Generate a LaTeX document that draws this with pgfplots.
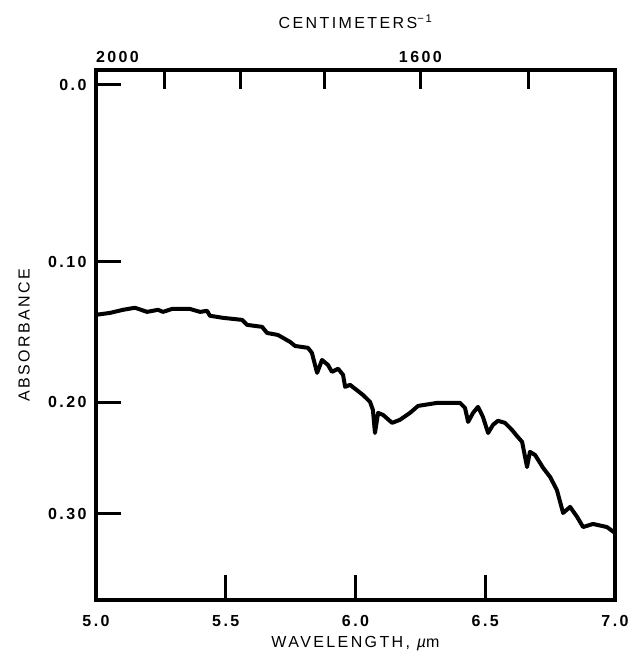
\documentclass[border=0pt]{standalone}
\usepackage{fontspec}
\setmainfont{Liberation Sans}[LetterSpace=15]
\usepackage{pgfplots}
\usepackage{pgfplotstable}
\pgfplotsset{compat=1.18}

% wavelength (um) vs absorbance
\pgfplotstableread{
lambda A
5.000 0.1351
5.054 0.1338
5.104 0.1317
5.150 0.1303
5.197 0.1331
5.239 0.1317
5.258 0.1331
5.293 0.1311
5.362 0.1311
5.401 0.1331
5.428 0.1324
5.439 0.1358
5.489 0.1372
5.563 0.1386
5.582 0.1421
5.640 0.1435
5.659 0.1478
5.701 0.1492
5.748 0.1542
5.767 0.1571
5.817 0.1585
5.832 0.1622
5.852 0.1771
5.871 0.1674
5.894 0.1711
5.909 0.1763
5.933 0.1740
5.952 0.1786
5.960 0.1879
5.979 0.1863
6.029 0.1942
6.056 0.1997
6.067 0.2061
6.075 0.2253
6.087 0.2086
6.106 0.2102
6.141 0.2168
6.171 0.2143
6.210 0.2086
6.241 0.2029
6.314 0.2005
6.403 0.2005
6.422 0.2045
6.434 0.2160
6.453 0.2086
6.472 0.2037
6.491 0.2118
6.511 0.2253
6.530 0.2184
6.549 0.2151
6.576 0.2168
6.603 0.2227
6.622 0.2278
6.642 0.2329
6.661 0.2551
6.672 0.2416
6.692 0.2443
6.723 0.2559
6.750 0.2643
6.776 0.2765
6.800 0.2990
6.827 0.2930
6.854 0.3030
6.877 0.3134
6.915 0.3102
6.969 0.3134
7.000 0.3196
}\spectrum

\begin{document}
\begin{tikzpicture}
\pgfplotsset{
  common/.style={
    scale only axis, width=519pt, height=530pt,
    xmin=5, xmax=7,
    ymin=0.4012, ymax=1.0174, % transmittance scale, labelled as absorbance
    tick align=inside,
    axis line style={line width=3.2pt},
    tick style={line width=3pt, black},
    /pgf/number format/assume math mode=true,
    ticklabel style={font=\bfseries\fontsize{16}{16}\selectfont},
    label style={font=\fontsize{16}{16}\selectfont},
  }
}
\begin{axis}[common, name=ax,
    xtick={5,5.5,6,6.5,7},
    xticklabels={5.0,5.5,6.0,6.5,7.0},
    ytick={1,0.79433,0.63096,0.50119},
    yticklabels={0.0,0.10,0.20,0.30},
    tick pos=left,
    major tick length=25pt,
    xticklabel style={yshift=-12pt},
    yticklabel style={xshift=-6pt},
    xlabel={WAVELENGTH, {\itshape µ}m},
    ylabel={ABSORBANCE},
    xlabel style={at={(axis description cs:0.5,0)}, yshift=-44pt, anchor=center},
    ylabel style={at={(axis description cs:0,0.5)}, yshift=72pt, anchor=center},
  ]
  \addplot[black, line width=4pt, line join=round] table[x=lambda, y expr={10^(-\thisrow{A})}] {\spectrum};
\end{axis}
\begin{axis}[common,
    axis x line*=top, axis y line=none,
    xtick={5,5.26316,5.55556,5.88235,6.25,6.66667},
    xticklabels={\makebox[0pt][l]{2000},,,,1600,},
    major tick length=19pt,
    xticklabel style={yshift=4pt},
    xlabel={CENTIMETERS\textsuperscript{−1}},
    xlabel style={at={(axis description cs:0.5,1)}, yshift=48pt, anchor=center},
  ]
\end{axis}
\pgfresetboundingbox
\path[use as bounding box] ([xshift=-96pt,yshift=-54pt]ax.south west) rectangle ([xshift=18pt,yshift=70pt]ax.north east);
\end{tikzpicture}
\end{document}
